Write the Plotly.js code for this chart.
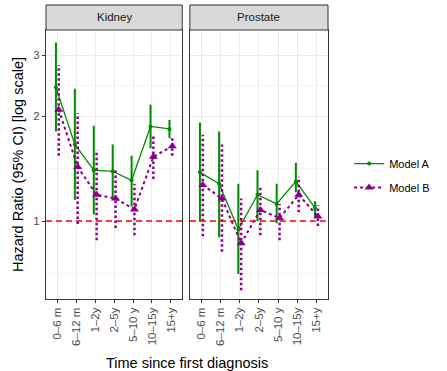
<!DOCTYPE html>
<html>
<head>
<meta charset="utf-8">
<script src="https://cdn.plot.ly/plotly-3.0.1.min.js"></script>
<style>html,body{margin:0;padding:0;background:#fff;}#chart{width:447px;height:371px;}</style>
</head>
<body>
<div id="chart"></div>
<script>
const categories = ["0\u20136 m","6\u201312 m","1\u20132y","2\u20135y","5\u201310 y","10\u201315y","15+y"];
const panels = ["Kidney","Prostate"];
const models = ["Model A","Model B"];

const kidneyA_hr = [2.42, 1.66, 1.40, 1.39, 1.31, 1.87, 1.84];
const kidneyA_lo = [1.81, 1.15, 1.045, 1.15, 1.10, 1.62, 1.73];
const kidneyA_hi = [3.26, 2.40, 1.88, 1.66, 1.54, 2.16, 1.95];
const kidneyB_hr = [2.09, 1.43, 1.19, 1.16, 1.08, 1.53, 1.64];
const kidneyB_lo = [1.54, 0.98, 0.88, 0.955, 0.91, 1.32, 1.54];
const kidneyB_hi = [2.81, 2.04, 1.60, 1.40, 1.28, 1.78, 1.74];

const prostateA_hr = [1.38, 1.28, 0.946, 1.19, 1.12, 1.30, 1.09];
const prostateA_lo = [0.995, 0.898, 0.704, 1.0, 0.985, 1.21, 1.02];
const prostateA_hi = [1.92, 1.81, 1.28, 1.40, 1.28, 1.47, 1.14];
const prostateB_hr = [1.27, 1.16, 0.863, 1.076, 1.02, 1.19, 1.03];
const prostateB_lo = [0.905, 0.816, 0.633, 0.91, 0.88, 1.06, 0.967];
const prostateB_hi = [1.77, 1.66, 1.16, 1.26, 1.12, 1.34, 1.11];

const data = {
  Kidney: {A: [kidneyA_hr, kidneyA_lo, kidneyA_hi], B: [kidneyB_hr, kidneyB_lo, kidneyB_hi]},
  Prostate: {A: [prostateA_hr, prostateA_lo, prostateA_hi], B: [prostateB_hr, prostateB_lo, prostateB_hi]}
};

const GREEN = "#008B00", PURPLE = "#8B008B";
const styles = {
  A: {color: GREEN, off: -0.075, lineDash: "solid", lineW: 1.3, barDash: "solid", barW: 2, marker: {symbol: "circle", size: 4, color: GREEN}},
  B: {color: PURPLE, off: 0.075, lineDash: "3px,3px", lineW: 2, barDash: "2.5px,2.5px", barW: 2.5, marker: {symbol: "triangle-up", size: 8, color: PURPLE}}
};

const traces = [];
panels.forEach((p, pi) => {
  const xa = pi === 0 ? "x" : "x2", ya = pi === 0 ? "y" : "y2";
  ["A","B"].forEach((m, mi) => {
    const s = styles[m];
    const [hr, lo, hi] = data[p][m];
    const ex = [], ey = [];
    categories.forEach((c, i) => { ex.push(i + s.off, i + s.off, null); ey.push(lo[i], hi[i], null); });
    traces.push({x: ex, y: ey, xaxis: xa, yaxis: ya, mode: "lines", showlegend: false, hoverinfo: "skip",
      line: {color: s.color, width: s.barW, dash: s.barDash}});
    traces.push({x: categories.map((c, i) => i + s.off), y: hr, xaxis: xa, yaxis: ya, mode: "lines+markers",
      name: models[mi], legendgroup: m, showlegend: pi === 0,
      line: {color: s.color, width: s.lineW, dash: s.lineDash}, marker: s.marker});
  });
  traces.push({x: [-0.6, 6.6], y: [1, 1], xaxis: xa, yaxis: ya, mode: "lines", showlegend: false, hoverinfo: "skip",
    line: {color: "#FF0000", width: 1.5, dash: "6px,4px"}});
});

const tickFont = {family: "Liberation Sans, Arial, sans-serif", size: 11.5, color: "#4D4D4D"};
const xBase = {
  range: [-0.6, 6.6], tickmode: "array", tickvals: categories.map((c, i) => i), ticktext: categories,
  tickangle: -90, tickfont: tickFont, ticks: "outside", ticklen: 3, tickcolor: "#333333",
  showgrid: true, gridcolor: "#EBEBEB", gridwidth: 1, zeroline: false,
  showline: true, mirror: true, linecolor: "#333333", linewidth: 1, fixedrange: true
};
const yBase = {
  type: "log", range: [Math.log10(0.597), Math.log10(3.54)], tickmode: "array", tickvals: [1, 2, 3], ticktext: ["1","2","3"],
  tickfont: tickFont, ticks: "outside", ticklen: 3, tickcolor: "#333333",
  showgrid: true, gridcolor: "#EBEBEB", gridwidth: 1, zeroline: false,
  showline: true, mirror: true, linecolor: "#333333", linewidth: 1,
  minor: {tickmode: "array", tickvals: [Math.SQRT1_2, Math.SQRT2, Math.sqrt(6)], showgrid: true, gridcolor: "#EBEBEB", gridwidth: 0.5, ticklen: 0},
  fixedrange: true
};

const d1 = 143 / 296, d2 = 151 / 296, stripTop = 1 + 25 / 269;
const layout = {
  width: 447, height: 371,
  margin: {l: 46, r: 105, t: 30, b: 72},
  paper_bgcolor: "#FFFFFF", plot_bgcolor: "#FFFFFF",
  font: {family: "Liberation Sans, Arial, sans-serif", color: "#000000"},
  showlegend: true,
  legend: {x: 1.075, xanchor: "left", y: 0.459, yanchor: "middle", font: {size: 11, color: "#000000"},
    bgcolor: "rgba(0,0,0,0)", traceorder: "grouped", tracegroupgap: 5, itemwidth: 30},
  xaxis: Object.assign({}, xBase, {domain: [0, d1], anchor: "y"}),
  xaxis2: Object.assign({}, xBase, {domain: [d2, 1], anchor: "y2"}),
  yaxis: Object.assign({}, yBase, {domain: [0, 1], anchor: "x",
    title: {text: "Hazard Ratio (95% CI) [log scale]", font: {size: 14.5, color: "#000000"}, standoff: 6}}),
  yaxis2: Object.assign({}, yBase, {domain: [0, 1], anchor: "x2", matches: "y", showticklabels: false, ticks: ""}),
  shapes: [
    {type: "rect", xref: "paper", yref: "paper", x0: 0, x1: d1, y0: 1, y1: stripTop, fillcolor: "#D9D9D9", line: {color: "#333333", width: 1}},
    {type: "rect", xref: "paper", yref: "paper", x0: d2, x1: 1, y0: 1, y1: stripTop, fillcolor: "#D9D9D9", line: {color: "#333333", width: 1}}
  ],
  annotations: [
    {text: panels[0], xref: "paper", yref: "paper", x: d1 / 2, y: (1 + stripTop) / 2, xanchor: "center", yanchor: "middle", showarrow: false, font: {size: 11.5, color: "#1A1A1A"}},
    {text: panels[1], xref: "paper", yref: "paper", x: (d2 + 1) / 2, y: (1 + stripTop) / 2, xanchor: "center", yanchor: "middle", showarrow: false, font: {size: 11.5, color: "#1A1A1A"}},
    {text: "Time since first diagnosis", xref: "paper", yref: "paper", x: 0.5, y: -64 / 269, xanchor: "center", yanchor: "middle", showarrow: false, font: {size: 14.5, color: "#000000"}}
  ]
};

Plotly.newPlot("chart", traces, layout, {displayModeBar: false, staticPlot: true});
</script>
</body>
</html>
